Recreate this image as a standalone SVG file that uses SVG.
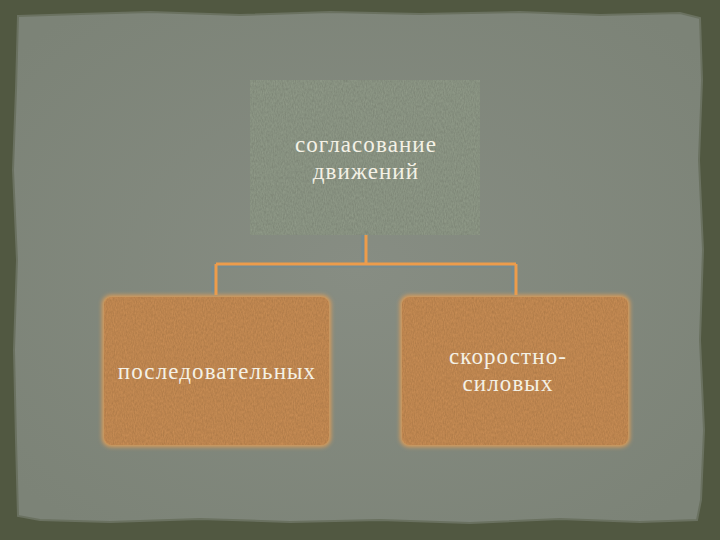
<svg xmlns="http://www.w3.org/2000/svg" width="720" height="540" viewBox="0 0 720 540">
  <style>
    .lbl { font-family: "Liberation Serif", "DejaVu Serif", serif; font-size: 23px; letter-spacing: 1.1px; fill: #f4f1e6; text-anchor: middle; }
    .conn { fill: none; stroke: #ec9c4c; stroke-width: 3; }
    .connShadow { fill: none; stroke: #6f8c98; stroke-width: 3; opacity: 0.7; }
  </style>
  <defs>
    <radialGradient id="paper" cx="50%" cy="50%" r="65%">
      <stop offset="0" stop-color="#878d83"/>
      <stop offset="1" stop-color="#7c8377"/>
    </radialGradient>
    <filter id="grain" x="0" y="0" width="100%" height="100%">
      <feTurbulence type="fractalNoise" baseFrequency="0.9 0.35" numOctaves="2" seed="3" result="n"/>
      <feColorMatrix in="n" type="matrix" values="0 0 0 0 0  0 0 0 0 0  0 0 0 0 0  0 0 0 0.35 -0.05" result="d"/>
      <feComposite in="d" in2="SourceGraphic" operator="in" result="dm"/>
      <feMerge><feMergeNode in="SourceGraphic"/><feMergeNode in="dm"/></feMerge>
    </filter>
    <filter id="glow" x="-5%" y="-5%" width="110%" height="110%">
      <feGaussianBlur stdDeviation="2"/>
    </filter>
  </defs>

  <!-- dark frame -->
  <rect x="0" y="0" width="720" height="540" fill="#515841"/>
  <!-- paper with torn edges -->
  <path d="M18,16 L80,14 L150,12 L240,15 L330,12 L420,14 L520,12 L600,15 L680,13 L700,18 L702,80 L699,160 L703,250 L700,340 L704,430 L701,500 L697,520 L640,522 L560,519 L470,523 L380,520 L290,522 L200,519 L110,522 L40,520 L18,516 L16,440 L14,350 L17,260 L13,170 L16,90 Z" fill="url(#paper)" stroke="#6a7160" stroke-width="2"/>

  <g id="connectors">
    <path class="connShadow" d="M363,235 V262 M214,266 H518 M213,266 V295 M513,266 V295"/>
    <path class="conn" d="M366,235 V264 M216,264 H516 M216,264 V295 M516,264 V295"/>
  </g>

  <g id="node-top">
    <rect x="250" y="80" width="230" height="155" fill="#909a88" filter="url(#grain)"/>
    <text class="lbl" x="366" y="152">согласование</text>
    <text class="lbl" x="366" y="179">движений</text>
  </g>

  <g id="node-left">
    <rect x="102" y="295" width="229" height="152" rx="9" fill="#dc9c58" filter="url(#glow)"/>
    <rect x="104" y="297" width="225" height="148" rx="8" fill="#c88d55" filter="url(#grain)"/>
    <text class="lbl" x="217" y="379">последовательных</text>
  </g>

  <g id="node-right">
    <rect x="400" y="295" width="230" height="152" rx="9" fill="#dc9c58" filter="url(#glow)"/>
    <rect x="402" y="297" width="226" height="148" rx="8" fill="#c88d55" filter="url(#grain)"/>
    <text class="lbl" x="508" y="364">скоростно-</text>
    <text class="lbl" x="508" y="391">силовых</text>
  </g>
</svg>
